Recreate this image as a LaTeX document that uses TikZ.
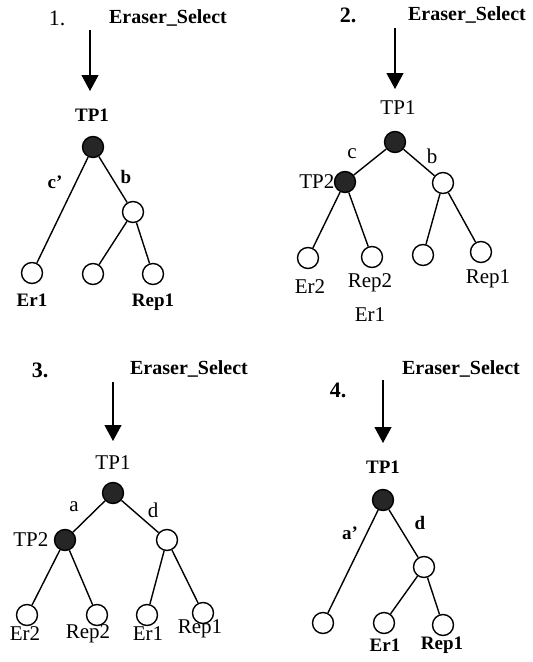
\documentclass[tikz,border=0pt]{standalone}
\usepackage{fontspec}
\setmainfont{Liberation Serif}
\usepackage{tikz}
\usetikzlibrary{arrows.meta}

\begin{document}
\begin{tikzpicture}[x=1pt, y=-1pt, line width=1.4pt,
        open/.style={circle, draw, fill=white, minimum size=21pt, inner sep=0pt},
        tp/.style={circle, draw, fill=black!85, minimum size=21pt, inner sep=0pt},
        lbl/.style={font=\fontsize{21}{21}\selectfont, inner sep=1pt},
        blbl/.style={font=\bfseries\fontsize{19}{19}\selectfont, inner sep=1pt},
        title/.style={font=\bfseries\fontsize{20}{20}\selectfont},
        num/.style={font=\fontsize{22}{22}\selectfont},
        select/.style={-{Triangle[width=17pt,length=16pt]}, line width=1.2pt}]
        \useasboundingbox (0,0) rectangle (533,662);

        % 1.
        \node[num] (num1) at (57,18) {1.};
        \node[title] (sel1) at (168,18) {Eraser\_Select};
        \coordinate (top1) at (90,30);
        \coordinate (tip1) at (90,91);
        \draw[select] (top1) -- (tip1);
        \node[blbl] (tpa1) at (92,115) {TP1};
        \node[tp] (root1) at (93,147) {};
        \node[open] (mid1) at (133,212) {};
        \node[open] (er1) at (32,273) {};
        \node[open] (leaf1) at (93,274) {};
        \node[open] (rep1) at (153,274) {};
        \draw (root1) -- (er1) (root1) -- (mid1) (mid1) -- (leaf1) (mid1) -- (rep1);
        \node[blbl] (ca1) at (55,182) {c'};
        \node[blbl] (b1) at (126,177) {b};
        \node[blbl] (era1) at (32,300) {Er1};
        \node[blbl] (repa1) at (153,302) {Rep1};

        % 2.
        \node[num] (num2) at (348,15) {\bfseries 2.};
        \node[title] (sel2) at (467,15) {Eraser\_Select};
        \coordinate (top2) at (395,28);
        \coordinate (tip2) at (395,89);
        \draw[select] (top2) -- (tip2);
        \node[lbl] (tpa2) at (398,108) {TP1};
        \node[tp] (root2) at (395,142) {};
        \node[tp] (tp2) at (345,182) {};
        \node[open] (mid2) at (443,183) {};
        \node[open] (er2) at (308,258) {};
        \node[open] (rp2) at (372,257) {};
        \node[open] (leaf2) at (423,255) {};
        \node[open] (rep2) at (481,252) {};
        \draw (root2) -- (tp2) (root2) -- (mid2) (tp2) -- (er2) (tp2) -- (rp2)
            (mid2) -- (leaf2) (mid2) -- (rep2);
        \node[lbl] (c2) at (352,154) {c};
        \node[lbl] (b2) at (432,156) {b};
        \node[lbl, anchor=east] (tpb2) at (336,182) {TP2};
        \node[lbl] (era2) at (310,287) {Er2};
        \node[lbl] (rpa2) at (370,283) {Rep2};
        \node[lbl] (repa2) at (488,279) {Rep1};
        \node[lbl] (erb2) at (370,315) {Er1};

        % 3.
        \node[num] (num3) at (40,370) {\bfseries 3.};
        \node[title] (sel3) at (189,369) {Eraser\_Select};
        \coordinate (top3) at (113,382);
        \coordinate (tip3) at (113,441);
        \draw[select] (top3) -- (tip3);
        \node[lbl] (tpa3) at (113,463) {TP1};
        \node[tp] (root3) at (113,493) {};
        \node[tp] (tp3) at (65,540) {};
        \node[open] (mid3) at (167,540) {};
        \node[open] (er3) at (27,615) {};
        \node[open] (rp3) at (97,615) {};
        \node[open] (erc3) at (147,615) {};
        \node[open] (rep3) at (203,613) {};
        \draw (root3) -- (tp3) (root3) -- (mid3) (tp3) -- (er3) (tp3) -- (rp3)
            (mid3) -- (erc3) (mid3) -- (rep3);
        \node[lbl] (a3) at (74,507) {a};
        \node[lbl] (d3) at (153,510) {d};
        \node[lbl, anchor=east] (tpb3) at (50,540) {TP2};
        \node[lbl] (era3) at (25,634) {Er2};
        \node[lbl] (rpa3) at (88,634) {Rep2};
        \node[lbl] (erca3) at (148,634) {Er1};
        \node[lbl] (repa3) at (200,629) {Rep1};

        % 4.
        \node[num] (num4) at (338,390) {\bfseries 4.};
        \node[title] (sel4) at (461,369) {Eraser\_Select};
        \coordinate (top4) at (383,380);
        \coordinate (tip4) at (383,443);
        \draw[select] (top4) -- (tip4);
        \node[blbl] (tpa4) at (383,467) {TP1};
        \node[tp] (root4) at (383,500) {};
        \node[open] (mid4) at (424,567) {};
        \node[open] (leaf4) at (323,623) {};
        \node[open] (er4) at (384,623) {};
        \node[open] (rep4) at (443,625) {};
        \draw (root4) -- (leaf4) (root4) -- (mid4) (mid4) -- (er4) (mid4) -- (rep4);
        \node[blbl] (a4) at (350,533) {a'};
        \node[blbl] (d4) at (420,523) {d};
        \node[blbl] (era4) at (385,645) {Er1};
        \node[blbl] (repa4) at (442,645) {Rep1};
    \end{tikzpicture}
\end{document}
